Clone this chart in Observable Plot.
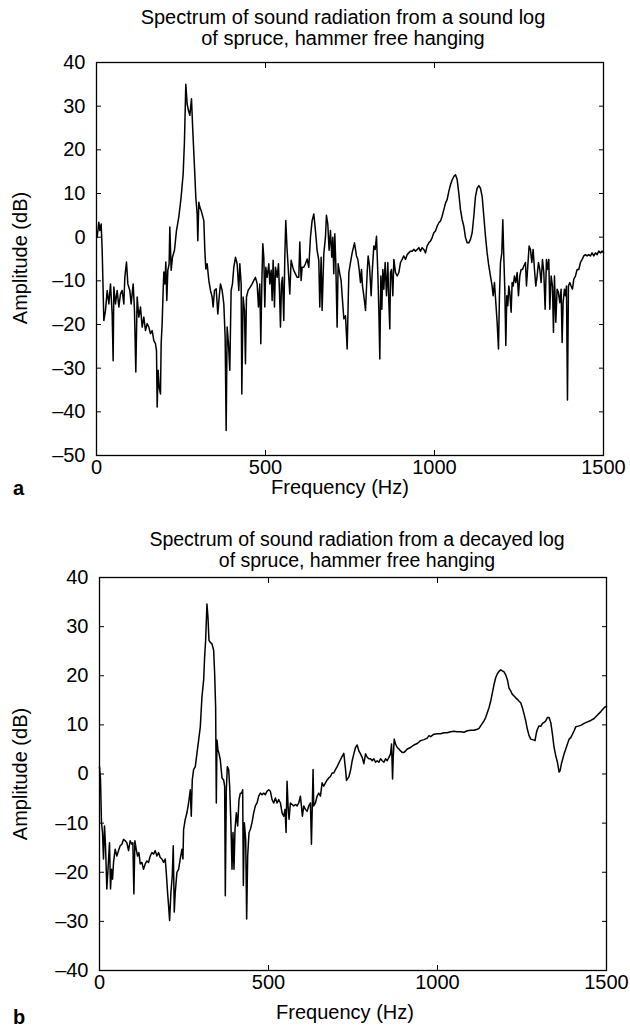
<!DOCTYPE html>
<html><head><meta charset="utf-8">
<script src="https://cdn.jsdelivr.net/npm/d3@7"></script>
<script src="https://cdn.jsdelivr.net/npm/@observablehq/plot@0.6"></script>
<style>
body{margin:0;background:#fff;}
#page{position:relative;width:630px;height:1032px;font-family:"Liberation Sans",Arial,Helvetica,sans-serif;color:#000;overflow:hidden;background:#fff}
.t{position:absolute;white-space:nowrap;font-size:20px;line-height:20px;height:20px;transform:translateX(-50%);text-align:center}
.yl{position:absolute;white-space:nowrap;font-size:20px;line-height:20px;transform:translate(-50%,-50%) rotate(-90deg)}
.pl{position:absolute;font-size:20px;font-weight:bold;line-height:20px}
.svgbox{position:absolute;left:0}
</style>
</head><body>
<div id="page">
  <div class="svgbox" id="pa" style="top:0"></div>
  <div class="svgbox" id="pb" style="top:500px"></div>
  <div class="t" id="titleA1" style="left:343px;top:7px;font-size:20px"></div>
  <div class="t" id="titleA2" style="left:343px;top:28px;font-size:20px"></div>
  <div class="t" id="titleB1" style="left:357px;top:529px;font-size:19.5px"></div>
  <div class="t" id="titleB2" style="left:357px;top:550px;font-size:19.5px"></div>
  <div class="t" id="xlabA" style="left:340px;top:477px"></div>
  <div class="t" id="xlabB" style="left:345px;top:1002px"></div>
  <div class="yl" id="ylabA" style="left:20px;top:258px"></div>
  <div class="yl" id="ylabB" style="left:20px;top:774px"></div>
  <div class="pl" id="tagA" style="left:13px;top:478px"></div>
  <div class="pl" id="tagB" style="left:13px;top:1007px"></div>
</div>
<script>
// ---- texts ----
const titleA = ["Spectrum of sound radiation from a sound log", "of spruce, hammer free hanging"];
const titleB = ["Spectrum of sound radiation from a decayed log", "of spruce, hammer free hanging"];
const xLabel = "Frequency (Hz)";
const yLabel = "Amplitude (dB)";
const panelTags = ["a", "b"];

// ---- ticks ----
const xTicks = [0, 500, 1000, 1500];
const yTicksA = [-50, -40, -30, -20, -10, 0, 10, 20, 30, 40];
const yTicksB = [-40, -30, -20, -10, 0, 10, 20, 30, 40];

// ---- panel a: sound log ----
const freqA = [2.0,6.9,9.9,13.8,16.8,21.7,26.6,31.6,36.5,41.4,46.3,49.3,51.3,56.2,61.1,66.1,71.0,75.9,80.9,83.8,88.7,92.7,98.6,102.5,108.5,112.4,116.3,120.3,125.2,130.2,135.1,140.0,144.9,149.9,154.8,159.7,164.7,169.6,174.5,177.5,179.5,182.4,185.4,189.3,191.3,194.2,197.2,199.2,202.1,205.1,208.0,211.0,214.9,216.9,220.9,224.8,230.7,236.6,243.5,250.4,256.4,260.3,264.2,268.2,272.1,276.1,281.0,284.9,289.9,293.8,297.8,299.7,302.7,305.7,309.6,313.5,317.5,320.5,323.4,327.4,332.3,337.2,342.1,345.1,349.0,354.0,358.9,363.8,366.8,371.7,376.7,380.6,383.6,386.5,390.5,394.4,398.3,402.3,406.2,411.2,416.1,421.0,424.0,428.0,429.9,433.8,437.8,440.7,443.7,448.6,455.5,460.5,465.4,470.3,475.3,479.2,483.1,486.1,489.1,492.0,495.0,497.9,500.9,504.8,509.8,512.7,516.7,519.6,522.6,526.5,529.5,534.4,538.4,541.3,544.3,547.2,550.2,554.1,557.1,560.0,564.0,568.9,571.9,575.8,580.8,583.7,588.6,593.6,598.5,601.5,605.4,608.4,613.3,618.2,623.2,628.1,633.0,637.9,642.9,647.8,652.7,657.7,660.6,664.6,667.5,672.5,677.4,680.3,684.3,688.2,692.2,696.1,699.1,702.0,705.0,708.0,711.9,714.9,719.8,723.7,726.8,731.8,736.7,741.6,746.6,751.5,756.4,763.3,769.2,773.2,777.1,781.1,784.0,787.0,790.9,795.9,800.8,803.7,807.7,812.6,815.6,820.5,824.4,828.4,832.3,835.3,838.2,841.2,844.2,847.1,850.1,854.0,858.0,861.9,864.9,867.8,869.8,872.8,876.7,879.7,884.6,889.5,894.5,899.4,904.3,909.2,914.2,919.1,924.0,929.0,933.9,938.8,943.8,948.7,953.6,958.5,963.5,968.4,973.3,978.3,983.2,988.1,993.1,998.0,1002.9,1007.8,1012.8,1017.7,1022.6,1027.6,1032.5,1037.4,1042.4,1047.3,1052.2,1057.1,1062.1,1067.0,1071.9,1076.9,1081.8,1086.7,1091.7,1096.6,1101.5,1106.4,1111.4,1116.3,1121.2,1126.2,1131.1,1136.0,1141.0,1145.9,1150.8,1155.7,1160.7,1165.6,1170.5,1173.5,1177.4,1181.4,1185.3,1189.3,1192.2,1195.2,1199.1,1202.1,1205.0,1208.0,1211.0,1213.9,1216.9,1219.8,1222.8,1226.7,1229.7,1232.6,1236.6,1240.5,1244.5,1248.4,1252.4,1256.3,1260.3,1264.2,1269.1,1272.1,1276.0,1280.0,1283.9,1287.9,1291.8,1295.8,1299.7,1303.6,1307.6,1311.5,1315.5,1319.4,1323.4,1327.3,1331.2,1334.2,1338.2,1341.1,1345.1,1349.0,1352.0,1354.9,1358.9,1362.8,1366.7,1370.7,1374.6,1377.6,1380.5,1384.5,1387.5,1390.4,1393.4,1396.3,1400.3,1404.2,1408.2,1412.1,1417.0,1422.0,1426.9,1431.8,1436.8,1441.7,1446.6,1451.5,1456.5,1461.4,1466.3,1471.3,1476.2,1481.1,1486.1,1491.0,1495.9,1500.0];
const ampA = [0.0,3.4,1.5,3.0,-3.0,-19.1,-16.8,-12.2,-15.3,-10.7,-17.6,-28.3,-11.4,-15.3,-12.2,-16.0,-13.0,-12.2,-15.3,-9.2,-5.7,-10.7,-12.2,-15.3,-10.7,-16.8,-30.9,-13.7,-18.3,-16.0,-20.6,-18.3,-21.4,-19.8,-20.6,-22.1,-21.4,-23.7,-24.4,-26.0,-38.9,-30.5,-34.4,-35.9,-24.4,-19.8,-12.2,-8.0,-10.7,-5.7,-14.5,-7.6,-6.1,2.3,-7.6,-4.6,-3.0,1.5,4.6,9.2,14.5,22.1,35.0,30.5,29.0,27.9,31.7,24.4,16.0,9.2,5.3,-0.8,8.0,6.9,6.1,5.0,3.8,-3.0,-7.3,-6.1,-9.9,-12.2,-13.7,-16.0,-12.2,-11.8,-17.6,-13.0,-10.7,-12.2,-15.3,-22.9,-44.3,-20.6,-24.4,-30.5,-12.2,-10.7,-6.9,-4.6,-6.1,-12.2,-6.1,-10.7,-35.9,-13.7,-16.8,-29.0,-13.7,-12.2,-11.4,-10.7,-9.9,-9.2,-10.7,-16.0,-10.7,-24.4,-10.7,-1.5,-4.6,-16.0,-6.9,-9.2,-6.1,-10.7,-7.6,-14.5,-5.3,-16.0,-6.9,-9.2,-6.1,-12.2,-20.6,-10.7,-9.2,-19.1,-4.6,3.8,-3.0,-9.2,-13.0,-5.3,-6.9,-7.6,-8.4,-9.2,-9.2,-1.1,-9.9,-6.9,-6.9,-6.1,-5.0,-6.9,0.0,3.8,5.3,1.5,-3.0,-5.3,-16.0,-4.6,-16.8,-3.8,0.0,5.0,3.0,-3.0,1.5,-4.6,0.0,-8.4,0.8,-6.1,-20.6,-6.1,-8.4,-9.9,-13.4,-18.7,-18.0,-25.6,-8.1,-5.8,-3.6,-1.3,-4.3,-5.1,-7.4,-10.4,-7.4,-11.2,-13.4,-16.8,-8.1,-4.3,-6.6,-13.4,-8.1,-2.0,-2.8,0.2,-8.1,-16.5,-27.9,-8.9,-16.5,-7.4,-11.9,-5.8,-13.4,-5.8,-15.0,-21.0,-8.1,-7.4,-13.4,-5.1,-8.1,-8.9,-8.1,-5.8,-5.1,-4.3,-5.1,-4.0,-3.6,-3.2,-3.2,-2.8,-3.2,-2.8,-2.4,-3.2,-2.4,-2.8,-3.6,-2.0,-1.3,-0.9,-0.1,1.0,1.4,2.5,3.3,3.7,4.8,6.3,7.8,8.6,10.5,12.0,13.1,13.9,14.3,13.2,10.1,6.3,4.0,2.5,-0.1,-1.3,-1.3,-0.5,1.0,4.8,9.3,11.2,11.8,11.2,9.3,4.8,0.2,-3.6,-6.6,-8.9,-11.2,-13.4,-10.4,-15.0,-19.5,-25.6,-13.4,-5.8,-3.6,4.0,-4.3,-11.9,-24.8,-13.4,-15.7,-11.2,-12.7,-17.2,-10.4,-11.2,-8.9,-10.4,-8.1,-13.4,-8.9,-7.4,-7.4,-6.6,-5.8,-11.2,-6.6,-2.0,-2.8,-5.8,-2.8,-7.4,-11.2,-8.9,-5.8,-7.4,-10.4,-5.1,-8.1,-16.5,-5.1,-7.4,-5.1,-16.5,-8.9,-11.2,-21.8,-8.9,-19.5,-11.9,-12.7,-15.0,-11.9,-24.1,-15.0,-11.9,-13.4,-11.2,-37.3,-11.2,-10.4,-11.2,-11.9,-9.6,-8.9,-7.4,-7.4,-5.8,-5.1,-4.3,-4.0,-4.3,-4.0,-4.3,-3.6,-4.3,-3.6,-4.0,-3.2,-3.6,-3.2,-3.6];

// ---- panel b: decayed log ----
const freqB = [0.0,3.0,5.9,8.9,11.8,14.8,17.8,21.7,25.7,29.6,32.6,35.5,38.5,41.5,46.4,51.3,56.3,61.2,66.2,71.1,76.0,81.0,85.9,90.8,95.8,98.7,101.7,104.7,108.6,112.6,116.5,120.5,125.4,130.3,135.3,140.2,145.1,150.1,155.0,160.0,164.9,169.8,174.8,179.7,184.6,189.6,194.5,197.5,201.4,204.4,207.4,211.3,215.3,218.2,221.2,224.1,229.1,234.0,238.9,243.9,246.9,248.8,253.8,258.7,263.6,268.6,271.5,274.5,278.4,283.4,288.3,293.3,298.2,303.1,308.1,311.0,314.0,317.9,320.9,323.9,327.8,332.8,337.7,340.7,343.6,345.6,347.6,350.5,353.5,357.4,362.4,367.3,370.3,372.2,375.2,378.2,382.1,385.1,389.0,392.0,395.0,397.9,400.9,404.8,408.8,412.7,416.7,420.6,423.6,425.6,428.5,432.5,435.4,438.4,442.4,446.3,451.2,456.2,461.1,466.1,471.0,475.9,480.9,485.8,490.7,495.7,500.6,505.5,510.5,515.4,520.4,525.3,530.2,535.2,540.1,545.0,549.0,552.0,554.9,557.9,560.8,564.8,569.7,574.7,579.6,584.5,589.5,594.4,597.4,600.3,604.3,609.2,614.2,619.1,624.0,627.0,630.0,631.9,633.9,638.8,643.8,648.7,653.7,658.6,663.5,668.5,673.4,678.3,683.3,688.2,693.2,698.1,703.0,708.0,712.9,717.8,722.8,727.8,730.8,737.7,742.6,747.6,752.5,757.4,762.4,767.3,772.2,777.2,782.1,787.1,792.0,796.9,801.9,806.8,811.7,816.7,821.6,826.6,831.5,836.4,841.4,846.3,851.2,856.2,861.1,864.1,867.0,869.0,872.0,875.9,880.9,885.8,890.7,895.7,900.6,905.5,910.5,920.4,930.2,940.1,950.0,959.9,969.7,974.7,979.6,989.5,999.3,1009.2,1019.1,1029.0,1038.8,1048.7,1058.6,1068.5,1078.3,1088.2,1098.1,1108.0,1117.8,1122.8,1127.7,1132.6,1137.6,1142.5,1147.5,1152.4,1157.3,1162.3,1167.2,1172.1,1177.1,1182.0,1187.0,1191.9,1196.8,1201.8,1206.7,1211.6,1216.6,1221.5,1226.4,1231.4,1236.3,1241.3,1246.2,1251.1,1256.1,1261.0,1265.9,1270.9,1275.8,1280.8,1285.7,1288.6,1292.6,1295.6,1300.5,1305.4,1310.4,1315.3,1320.3,1325.2,1330.1,1335.1,1340.0,1344.9,1349.9,1354.8,1359.7,1362.7,1366.6,1370.6,1374.6,1379.5,1384.4,1389.4,1394.3,1399.2,1404.2,1409.1,1414.1,1423.9,1433.8,1443.7,1453.6,1463.4,1473.3,1483.2,1493.1,1500.0];
const ampB = [1.5,-1.2,-9.9,-11.9,-17.3,-10.6,-14.6,-23.4,-18.7,-14.0,-23.4,-19.4,-21.4,-18.0,-15.3,-16.7,-15.6,-14.6,-14.3,-13.3,-13.6,-14.0,-15.6,-13.6,-14.3,-14.0,-24.4,-13.6,-15.3,-16.7,-16.0,-18.3,-18.0,-19.4,-18.3,-17.7,-18.0,-16.7,-16.0,-16.3,-15.6,-16.7,-16.0,-17.0,-17.3,-18.0,-17.3,-20.0,-24.1,-26.8,-29.8,-24.1,-20.7,-14.6,-28.1,-24.1,-20.0,-19.4,-17.3,-15.3,-17.3,-11.3,-9.2,-7.9,-5.9,-3.2,-8.6,-1.2,0.9,1.5,4.2,6.9,9.6,15.7,19.1,23.8,27.2,34.6,31.9,27.2,26.8,26.5,25.2,20.4,13.7,-5.9,6.9,4.9,4.2,2.9,-0.8,-1.2,-2.5,-24.8,-3.2,1.5,0.9,-2.5,-10.6,-19.4,-11.9,-19.4,-11.3,-7.9,-10.6,-5.2,-3.9,-3.9,-3.2,-22.7,-9.9,-13.3,-29.5,-16.7,-11.9,-11.3,-9.9,-7.9,-6.5,-5.9,-4.5,-3.9,-4.2,-3.9,-4.2,-3.5,-3.2,-3.5,-5.2,-5.9,-4.9,-5.9,-5.2,-5.9,-7.9,-8.6,-7.2,-11.9,-1.5,-6.5,-9.2,-5.9,-6.2,-6.5,-6.2,-6.5,-5.9,-4.5,-6.5,-8.6,-6.5,-7.2,-7.6,-6.5,-5.9,-14.3,-5.2,0.9,-6.5,-5.9,-4.5,-3.9,-4.5,-1.8,-2.5,-1.8,-1.2,-0.8,-0.5,0.2,0.2,0.9,1.5,2.2,2.9,3.6,4.2,1.0,-1.3,-0.6,0.7,2.7,4.1,5.4,5.9,4.7,4.1,3.4,2.1,4.1,3.4,3.1,3.1,2.7,3.1,2.4,2.7,2.4,3.1,2.7,2.4,3.1,2.7,3.4,4.1,6.1,-1.0,3.4,7.1,6.1,5.4,5.1,4.7,4.4,4.4,4.7,5.1,5.4,5.9,6.2,6.8,7.0,7.3,7.8,7.6,8.1,8.2,8.2,8.4,8.4,8.6,8.7,8.6,8.6,8.5,8.8,8.9,8.9,9.1,9.3,9.8,10.3,10.8,11.5,12.5,13.5,14.8,16.5,18.2,19.6,20.4,20.9,21.2,21.0,20.8,20.2,19.2,17.5,16.9,16.2,15.9,15.5,15.2,14.8,14.5,13.5,12.2,10.8,9.1,7.8,7.1,7.0,6.9,6.8,8.4,9.1,9.8,9.7,10.3,10.5,10.8,11.5,11.5,10.5,8.1,5.4,3.7,2.4,0.4,0.7,2.1,3.1,4.1,5.1,6.1,7.1,7.4,8.1,8.8,9.6,9.7,9.9,10.3,10.6,10.9,11.3,12.0,12.7,13.5,13.8];

const FONT = '"Liberation Sans", Arial, Helvetica, sans-serif';
const fmt = d => d < 0 ? "\u2013" + Math.abs(d) : String(d);

function panel(freq, amp, yDomain, yTicks, m) {
  const data = freq.map((f, i) => ({f, a: amp[i]}));
  return Plot.plot({
    width: 630, height: 500,
    marginTop: m.top, marginBottom: m.bottom, marginLeft: m.left, marginRight: m.right,
    style: {fontFamily: FONT, fontSize: "20px", color: "#000", background: "transparent", overflow: "visible"},
    x: {domain: [0, 1500]},
    y: {domain: yDomain},
    marks: [
      Plot.axisX(xTicks, {anchor: "bottom", tickSize: -5, tickPadding: 9, tickFormat: fmt, label: null, stroke: "#000"}),
      Plot.axisX(xTicks, {anchor: "top", tickSize: -5, tickFormat: () => "", label: null, stroke: "#000"}),
      Plot.axisY(yTicks, {anchor: "left", tickSize: -5, tickPadding: 16, tickFormat: fmt, label: null, stroke: "#000"}),
      Plot.axisY(yTicks, {anchor: "right", tickSize: -5, tickFormat: () => "", label: null, stroke: "#000"}),
      Plot.line(data, {x: "f", y: "a", stroke: "#000", strokeWidth: 1.5, strokeLinejoin: "round"}),
      Plot.frame({stroke: "#000", strokeWidth: 1.3})
    ]
  });
}

document.getElementById("pa").append(panel(freqA, ampA, [-50, 40], yTicksA, {top: 62, bottom: 45, left: 96, right: 27}));
document.getElementById("pb").append(panel(freqB, ampB, [-40, 40], yTicksB, {top: 77, bottom: 30, left: 99, right: 24}));

document.getElementById("titleA1").textContent = titleA[0];
document.getElementById("titleA2").textContent = titleA[1];
document.getElementById("titleB1").textContent = titleB[0];
document.getElementById("titleB2").textContent = titleB[1];
document.getElementById("xlabA").textContent = xLabel;
document.getElementById("xlabB").textContent = xLabel;
document.getElementById("ylabA").textContent = yLabel;
document.getElementById("ylabB").textContent = yLabel;
document.getElementById("tagA").textContent = panelTags[0];
document.getElementById("tagB").textContent = panelTags[1];
</script>
</body></html>
